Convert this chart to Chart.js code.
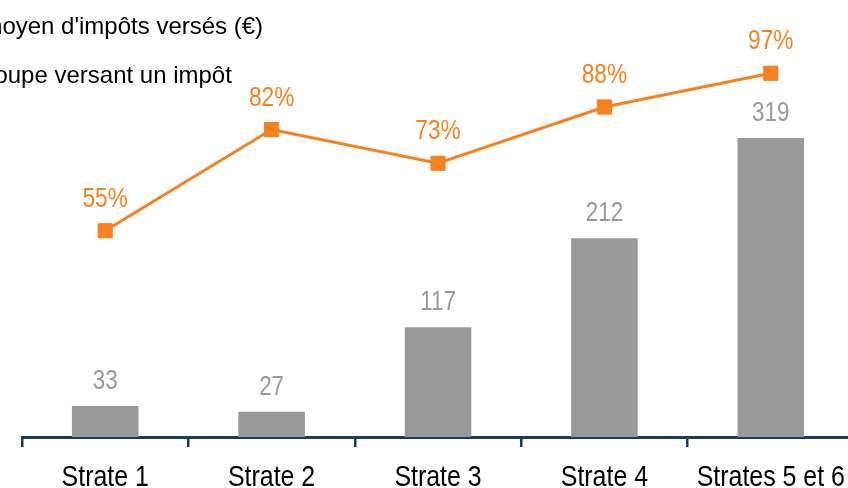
<!DOCTYPE html>
<html lang="fr">
<head>
    <meta charset="UTF-8">
    <title>Impôts versés par strate</title>
    <script src="https://cdn.jsdelivr.net/npm/chart.js"></script>
    <style>
        html, body { margin: 0; padding: 0; background: #fff; }
        #cadre { position: relative; width: 848px; height: 488px; overflow: hidden; }
        #graphique { position: absolute; left: -120px; top: 0; }
    </style>
</head>
<body>

    <div id="cadre">
        <canvas id="graphique" width="1000" height="488"></canvas>
    </div>

    <script>
        // Données par strate
        const strates = ['Strate 1', 'Strate 2', 'Strate 3', 'Strate 4', 'Strates 5 et 6'];
        const montantMoyen = [33, 27, 117, 212, 319];      // en euros
        const partVersant = [55, 82, 73, 88, 97];          // en %
        const nomsSeries = ["Montant moyen d'impôts versés (€)", 'Part du groupe versant un impôt'];

        const gris = '#989898';
        const orange = '#F7801F';
        const marine = '#173A66';
        const police = '"Liberation Sans", Arial, sans-serif';

        // Pas de police étroite installée : on compresse le texte horizontalement
        function texteEtroit(ctx, txt, x, y, k) {
            ctx.save();
            ctx.translate(x, y);
            ctx.scale(k, 1);
            ctx.fillText(txt, 0, 0);
            ctx.restore();
        }

        // Etiquettes de valeurs, libellés de l'axe et légende
        const etiquettes = {
            id: 'etiquettes',
            afterDatasetsDraw(chart) {
                const ctx = chart.ctx;
                ctx.save();
                ctx.textAlign = 'center';
                ctx.textBaseline = 'alphabetic';

                ctx.font = '28px ' + police;
                ctx.fillStyle = '#9a9a9a';
                chart.getDatasetMeta(1).data.forEach(function(barre, i) {
                    texteEtroit(ctx, String(montantMoyen[i]), barre.x, barre.y - 17, 0.8);
                });

                ctx.font = '27px ' + police;
                ctx.fillStyle = orange;
                chart.getDatasetMeta(0).data.forEach(function(pt, i) {
                    texteEtroit(ctx, partVersant[i] + '%', pt.x, pt.y - 24, 0.84);
                });

                // libellés des strates sous l'axe
                const axeX = chart.scales.x;
                ctx.font = '30px ' + police;
                ctx.fillStyle = '#000';
                strates.forEach(function(s, i) {
                    texteEtroit(ctx, s, axeX.getPixelForValue(i), 486, 0.83);
                });

                // légende
                ctx.font = '24px ' + police;
                ctx.textAlign = 'left';
                ctx.fillText(nomsSeries[0], 9, 34);
                ctx.fillText(nomsSeries[1], 9, 83);
                ctx.restore();
            }
        };

        const config = {
            data: {
                labels: strates,
                datasets: [{
                    type: 'line',
                    label: nomsSeries[1],
                    data: partVersant,
                    yAxisID: 'y1',
                    order: 0,
                    borderColor: orange,
                    borderWidth: 3,
                    pointStyle: 'rect',
                    pointRadius: 10,
                    pointBorderWidth: 1,
                    pointBackgroundColor: orange,
                    pointBorderColor: orange,
                    tension: 0
                }, {
                    type: 'bar',
                    label: nomsSeries[0],
                    data: montantMoyen,
                    yAxisID: 'y',
                    order: 1,
                    backgroundColor: gris,
                    barPercentage: 0.4,
                    categoryPercentage: 1
                }]
            },
            options: {
                responsive: false,
                animation: false,
                devicePixelRatio: 1,
                layout: {
                    padding: { left: 142, right: 26, top: 62, bottom: 0 }
                },
                plugins: {
                    legend: { display: false },
                    tooltip: { enabled: false }
                },
                scales: {
                    x: {
                        grid: {
                            display: true,
                            drawOnChartArea: false,
                            drawTicks: true,
                            tickLength: 10,
                            color: marine,
                            lineWidth: 2.5,
                            offset: true
                        },
                        border: { display: true, color: marine, width: 3 },
                        ticks: {
                            display: false,
                            autoSkip: false,
                            maxRotation: 0
                        },
                        afterFit(scale) {
                            scale.height = 51;
                        }
                    },
                    y: {
                        display: false,
                        min: 0,
                        max: 400
                    },
                    y1: {
                        display: false,
                        position: 'right',
                        min: 0,
                        max: 100
                    }
                }
            },
            plugins: [etiquettes]
        };

        window.onload = function() {
            const ctx = document.getElementById('graphique').getContext('2d');
            new Chart(ctx, config);
        };
    </script>

</body>
</html>
